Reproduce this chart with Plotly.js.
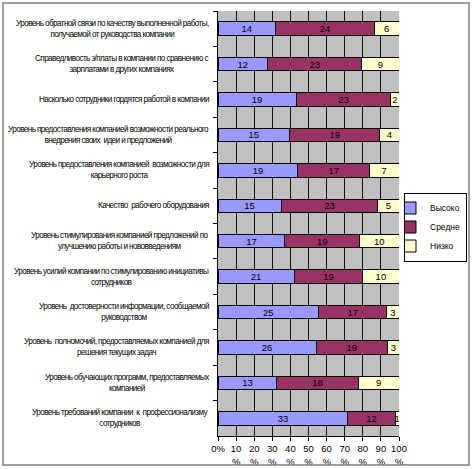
<!DOCTYPE html>
<html><head><meta charset="utf-8">
<script src="https://cdn.plot.ly/plotly-3.0.1.min.js"></script>
<style>html,body{margin:0;padding:0;background:#fff}#chart{width:474px;height:469px}
.annotation-text{letter-spacing:-0.6px}</style>
</head><body><div id="chart"></div>
<script>
const categories = [
  "Уровень обратной связи по качеству выполненной работы,<br>получаемой от руководства компании",
  "Справедливость з/платы в компании по сравнению с<br>зарплатами в других компаниях",
  "Насколько сотрудники гордятся работой в компании",
  "Уровень предоставления компанией возможности реального<br>внедрения своих  идеи и предложений",
  "Уровень предоставления компанией  возможности для<br>карьерного роста",
  "Качество  рабочего оборудования",
  "Уровень стимулирования компанией предложений по<br>улучшению работы и нововведениям",
  "Уровень усилий компании по стимулированию инициативы<br>сотрудников",
  "Уровень  достоверности информации, сообщаемой<br>руководством",
  "Уровень  полномочий, предоставляемых компанией для<br>решения текущих задач",
  "Уровень обучающих программ, предоставляемых<br>компанией",
  "Уровень требований компании  к  профессионализму<br>сотрудников"
];
const seriesNames = ["Высоко", "Средне", "Низко"];
const high   = [14, 12, 19, 15, 19, 15, 17, 21, 25, 26, 13, 33];
const medium = [24, 23, 23, 19, 17, 23, 19, 19, 17, 19, 18, 12];
const low    = [6, 9, 2, 4, 7, 5, 10, 10, 3, 3, 9, 1];
const colors = ["#9999FF", "#993366", "#FFFFCC"];
const tickVals = [0, 10, 20, 30, 40, 50, 60, 70, 80, 90, 100];
const tickText = ["0%", "10<br>%", "20<br>%", "30<br>%", "40<br>%", "50<br>%", "60<br>%", "70<br>%", "80<br>%", "90<br>%", "100<br>%"];

const FONT = "Liberation Sans, Arial, sans-serif";
const series = [high, medium, low];
const traces = series.map((vals, i) => ({
  type: "bar",
  orientation: "h",
  name: seriesNames[i],
  y: categories,
  x: vals,
  text: vals.map(String),
  textposition: "inside",
  insidetextanchor: "middle",
  textangle: 0,
  constraintext: "none",
  textfont: {family: FONT, size: 9.5, color: "#000"},
  marker: {color: colors[i], line: {color: "#000", width: 1}},
  hoverinfo: "none"
}));

const annotations = categories.map(c => ({
  xref: "paper", yref: "y", x: 0, y: c, xanchor: "right", yanchor: "middle",
  xshift: -7, align: "center", showarrow: false, text: c,
  font: {family: FONT, size: 8.2, color: "#000"}
}));

const L = 218, T = 11, PW = 181, PH = 425;
const px = v => (v - L) / PW, py = v => (T + PH - v) / PH;

const layout = {
  width: 474, height: 469,
  margin: {l: L, r: 474 - L - PW, t: T, b: 469 - T - PH, pad: 0, autoexpand: false},
  paper_bgcolor: "#fff", plot_bgcolor: "#C0C0C0",
  barmode: "stack", barnorm: "percent", bargap: 0.62,
  showlegend: true,
  legend: {x: px(467), y: py(227), xanchor: "right", yanchor: "middle",
    bordercolor: "#000", borderwidth: 1, bgcolor: "#fff", traceorder: "normal",
    tracegroupgap: 0, itemwidth: 30, indentation: -15,
    font: {family: FONT, size: 8.5, color: "#000"}},
  xaxis: {range: [0, 100], tickvals: tickVals, ticktext: tickText, tickmode: "array", tickangle: 0,
    showgrid: true, gridcolor: "#111", gridwidth: 1, zeroline: false,
    showline: true, linecolor: "#000", linewidth: 1, ticks: "outside", ticklen: 4, tickcolor: "#000",
    tickfont: {family: FONT, size: 9.5, color: "#000"}, fixedrange: true},
  yaxis: {autorange: "reversed", showticklabels: false, showgrid: false, zeroline: false,
    showline: true, linecolor: "#000", linewidth: 1, ticks: "outside", ticklen: 4, tickcolor: "#000",
    tickson: "boundaries", fixedrange: true},
  annotations: annotations,
  shapes: [{type: "rect", xref: "paper", yref: "paper",
    x0: px(3), x1: px(469), y0: py(465), y1: py(3),
    line: {color: "#808080", width: 1.5}, fillcolor: "rgba(0,0,0,0)"}]
};

Plotly.newPlot("chart", traces, layout, {displayModeBar: false, staticPlot: true});
</script></body></html>
